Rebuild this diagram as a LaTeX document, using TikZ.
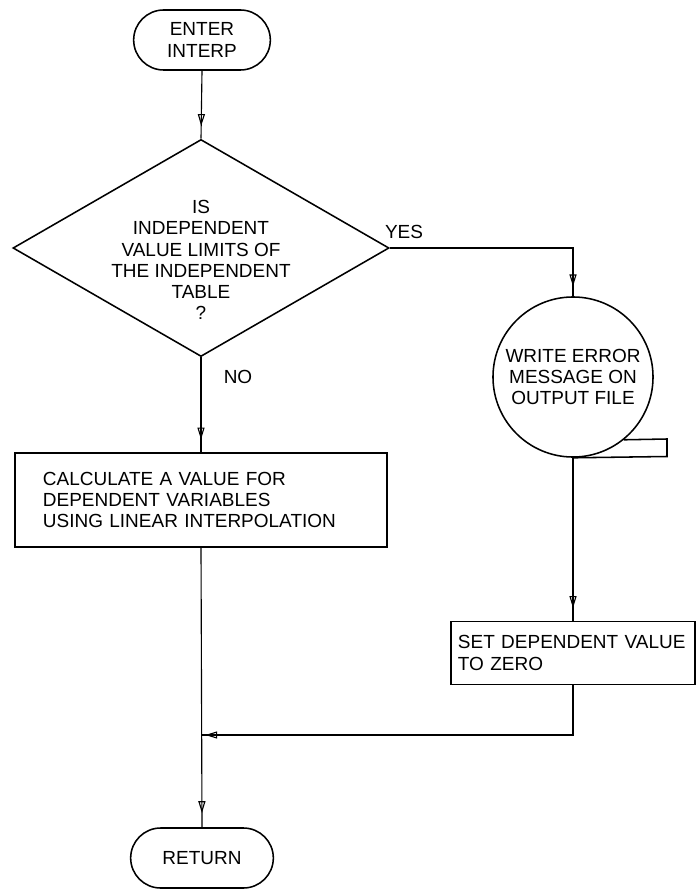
\documentclass[tikz,border=0pt]{standalone}
\usepackage{fontspec}
\setmainfont{Liberation Sans}
\usetikzlibrary{shapes.geometric,shapes.misc,arrows.meta,decorations.markings}
\begin{document}
\begin{tikzpicture}[x=0.025cm,y=-0.025cm,thick,font=\fontsize{13.5pt}{15pt}\selectfont,
	term/.style={draw,line width=1.1pt,rounded rectangle,minimum width=3.65cm,minimum height=1.5cm,align=center},
	decision/.style={draw,line width=1.1pt,diamond,minimum width=9.4cm,minimum height=5.425cm,inner sep=0pt},
	procbox/.style={draw,line width=1.1pt,rectangle,align=left,inner sep=0pt},
	tape/.style={draw,line width=1.1pt,circle,minimum size=4cm,align=center,inner sep=0pt},
	flow/.style={postaction={decorate},decoration={markings,mark=at position #1 with {\arrow{Triangle[open,length=8.5pt,width=5pt]}}}},
	flow/.default=-9pt]
			\useasboundingbox (0,0) rectangle (696,892);
			\node[term] (enter) at (202,40) {ENTER\\INTERP};
			\node[decision] (dec) at (201,248) {};
			\node[align=center] (dectext) at (201,260) {IS\\INDEPENDENT\\VALUE LIMITS OF\\THE INDEPENDENT\\TABLE\\?};
			\node (yes) at (404,232) {YES};
			\node (no) at (238,377) {NO};
			\node[procbox,minimum width=9.3cm,minimum height=2.35cm,text width=7.9cm] (calc) at (201,500) {CALCULATE A VALUE FOR\\DEPENDENT VARIABLES\\USING LINEAR INTERPOLATION};
			\node[tape] (wrt) at (573,377) {WRITE ERROR\\MESSAGE ON\\OUTPUT FILE};
			\node[procbox,minimum width=6.1cm,minimum height=1.575cm,text width=5.75cm] (set) at (573,653) {SET DEPENDENT VALUE\\TO ZERO};
			\node[term,minimum width=3.8cm] (ret) at (202,858) {RETURN};
			\coordinate (join) at (201,735);
			\draw[line width=1.1pt] (wrt.-51) -- (667,439) -- (667,456.5) -- (wrt.south);
			\draw[flow] (enter.south) -- (dec.north);
			\draw[flow=-7pt] (dec.east) -| (wrt.north);
			\draw[flow] (dec.south) -- (calc.north);
			\draw[flow] (wrt.south) -- (set.north);
			\draw[flow=-3pt] (set.south) |- (join);
			\draw[flow=-10pt] (calc.south) -- (ret.north);
			\end{tikzpicture}
\end{document}
